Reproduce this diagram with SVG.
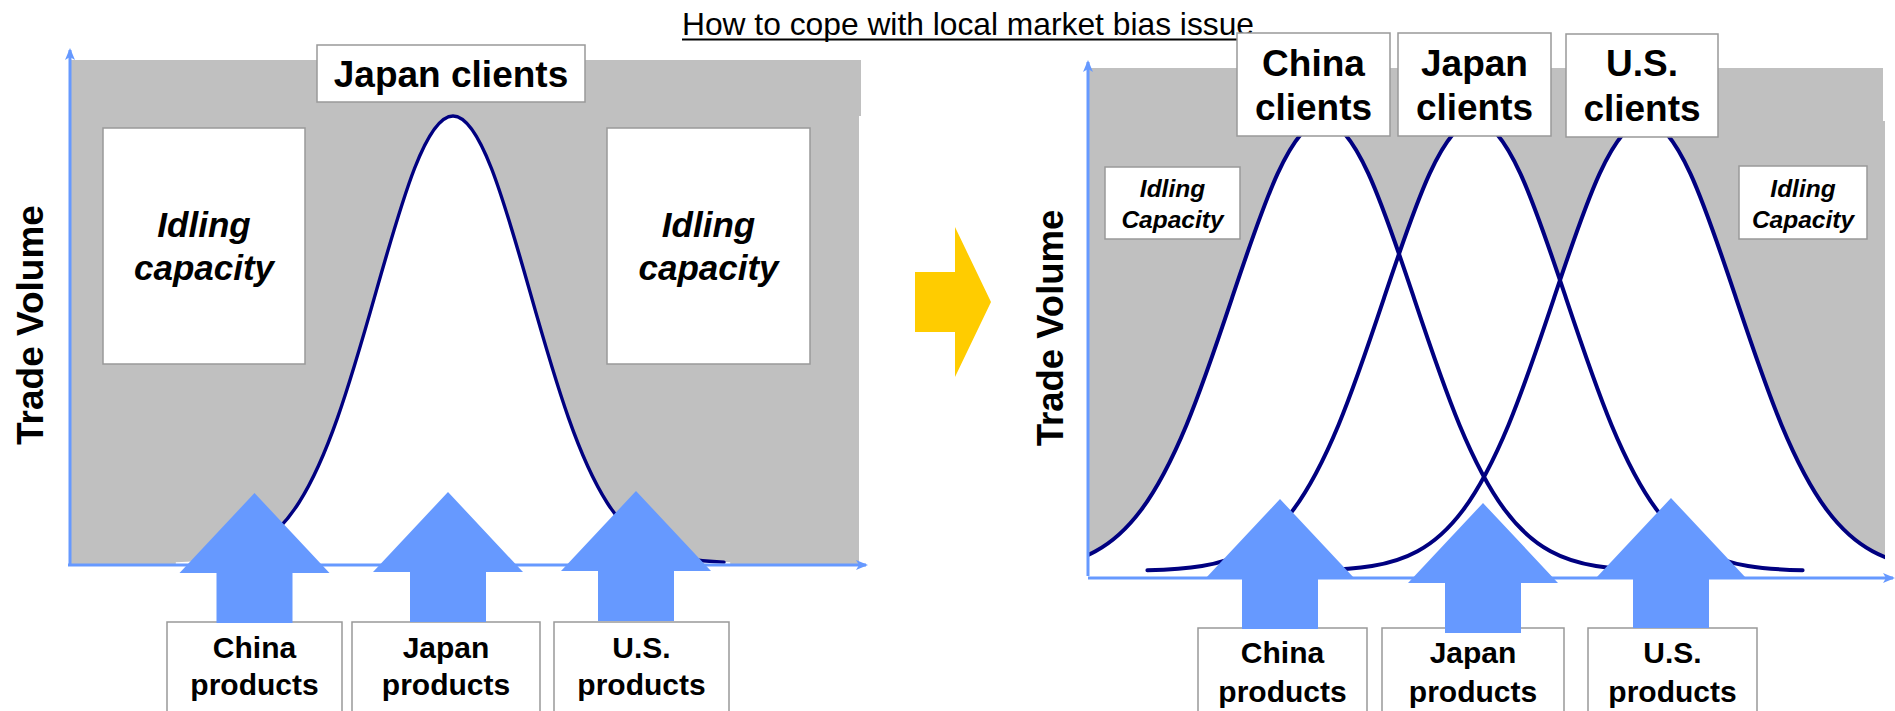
<svg xmlns="http://www.w3.org/2000/svg" xmlns:xlink="http://www.w3.org/1999/xlink" width="1895" height="711" viewBox="0 0 1895 711">
  <style>
    .bg { fill: #ffffff; }
    .area { fill: #c0c0c0; }
    .box { fill: #ffffff; stroke: #999999; stroke-width: 1.5; }
    .t { font-family: "Liberation Sans", Arial, Helvetica, sans-serif; fill: #000000; text-anchor: middle; }
    .b { font-weight: bold; }
    .bi { font-weight: bold; font-style: italic; }
    .axis { stroke: #6699ff; stroke-width: 3; fill: none; }
    .curve { fill: none; stroke: #000080; stroke-linejoin: round; stroke-linecap: round; }
    .under { fill: #ffffff; stroke: none; }
    .supply { fill: #6699ff; }
  </style>
  <defs>
    <!-- bell curve of the three-market chart, centred on x = 0 -->
    <path id="bellR" d="M-327.6,570.3 C-309.4,569.8 -291.2,569.0 -273,566.0 C-257.8,563.5 -242.7,559.5 -227.5,551.2 C-212.3,543.0 -197.2,530.4 -182,510.1 C-166.8,489.8 -151.7,461.4 -136.5,424.9 C-121.3,388.3 -106.2,343.6 -91,298.1 C-75.8,252.6 -60.7,207.0 -45.5,173.9 C-30.3,140.8 -15.2,121 0,121 C15.2,121 30.3,140.8 45.5,173.9 C60.7,207.0 75.8,252.6 91,298.1 C106.2,343.6 121.3,388.3 136.5,424.9 C151.7,461.4 166.8,489.8 182,510.1 C197.2,530.4 212.3,543.0 227.5,551.2 C242.7,559.5 257.8,563.5 273,566.0 C291.2,569.0 309.4,569.8 327.6,570.3"/>
    <path id="bellRFill" d="M-327.6,570.3 C-309.4,569.8 -291.2,569.0 -273,566.0 C-257.8,563.5 -242.7,559.5 -227.5,551.2 C-212.3,543.0 -197.2,530.4 -182,510.1 C-166.8,489.8 -151.7,461.4 -136.5,424.9 C-121.3,388.3 -106.2,343.6 -91,298.1 C-75.8,252.6 -60.7,207.0 -45.5,173.9 C-30.3,140.8 -15.2,121 0,121 C15.2,121 30.3,140.8 45.5,173.9 C60.7,207.0 75.8,252.6 91,298.1 C106.2,343.6 121.3,388.3 136.5,424.9 C151.7,461.4 166.8,489.8 182,510.1 C197.2,530.4 212.3,543.0 227.5,551.2 C242.7,559.5 257.8,563.5 273,566.0 C291.2,569.0 309.4,569.8 327.6,570.3 L327.6,577 L-327.6,577 Z"/>
    <!-- block arrow, apex at origin -->
    <path id="supplyArrow" d="M 0 0 L 75 80 L 38 80 L 38 130 L -38 130 L -38 80 L -75 80 Z"/>
    <marker id="axisHead" viewBox="0 0 12 10" refX="10" refY="5" markerWidth="12" markerHeight="10" markerUnits="userSpaceOnUse" orient="auto">
      <path d="M 0 0 L 12 5 L 0 10 L 3 5 Z" fill="#6699ff"/>
    </marker>
    <clipPath id="rightPlot">
      <rect x="1088" y="60" width="797" height="520"/>
    </clipPath>
  </defs>

  <rect class="bg" x="0" y="0" width="1895" height="711"/>

  <!-- title -->
  <g id="title">
    <text class="t" x="682" y="35" style="text-anchor:start" font-size="31.5" textLength="572" lengthAdjust="spacingAndGlyphs">How to cope with local market bias issue</text>
    <line x1="682" y1="39.5" x2="1254" y2="39.5" stroke="#000" stroke-width="2"/>
  </g>

  <!-- ===== left chart: single market ===== -->
  <g id="left-chart">
    <rect class="area" x="70" y="60" width="791" height="56"/>
    <rect class="area" x="70" y="116" width="789" height="449"/>
    <path class="under" d="M175.8,562.3 C191.2,561.8 206.6,561.0 222,558.0 C234.8,555.5 247.7,551.6 260.5,543.4 C273.3,535.2 286.2,522.7 299,502.5 C311.8,482.4 324.7,454.2 337.5,417.9 C350.3,381.6 363.2,337.1 376,291.9 C388.8,246.7 401.7,201.4 414.5,168.5 C427.3,135.7 440.2,116 453,116 C465.8,116 478.7,135.7 491.5,168.5 C504.3,201.4 517.2,246.7 530,291.9 C542.8,337.1 555.7,381.6 568.5,417.9 C581.3,454.2 594.2,482.4 607,502.5 C619.8,522.7 632.7,535.2 645.5,543.4 C658.3,551.6 671.2,555.5 684,558.0 C699.4,561.0 714.8,561.8 730.2,562.3 L730.2,566 L175.8,566 Z"/>
    <path class="curve" stroke-width="3.4" d="M222,558.0 C234.8,555.5 247.7,551.6 260.5,543.4 C273.3,535.2 286.2,522.7 299,502.5 C311.8,482.4 324.7,454.2 337.5,417.9 C350.3,381.6 363.2,337.1 376,291.9 C388.8,246.7 401.7,201.4 414.5,168.5 C427.3,135.7 440.2,116 453,116 C465.8,116 478.7,135.7 491.5,168.5 C504.3,201.4 517.2,246.7 530,291.9 C542.8,337.1 555.7,381.6 568.5,417.9 C581.3,454.2 594.2,482.4 607,502.5 C619.8,522.7 632.7,535.2 645.5,543.4 C658.3,551.6 671.2,555.5 684,558.0 C699.4,561.0 714.8,561.8 724,562.1"/>
  </g>

  <g id="left-idle-1">
    <rect class="box" x="103" y="128" width="202" height="236"/>
    <text class="t bi" x="204" y="237" font-size="35">Idling</text>
    <text class="t bi" x="204" y="280" font-size="35">capacity</text>
  </g>
  <g id="left-idle-2">
    <rect class="box" x="607" y="128" width="203" height="236"/>
    <text class="t bi" x="708.5" y="237" font-size="35">Idling</text>
    <text class="t bi" x="708.5" y="280" font-size="35">capacity</text>
  </g>
  <g id="left-japan-clients">
    <rect class="box" x="317" y="45" width="268" height="57"/>
    <text class="t b" x="451" y="87" font-size="37">Japan clients</text>
  </g>

  <g id="left-axis-label">
    <text class="t b" transform="translate(43 325) rotate(-90)" font-size="37">Trade Volume</text>
  </g>

  <!-- ===== right chart: three markets ===== -->
  <g id="right-chart">
    <rect class="area" x="1088" y="68" width="795" height="53"/>
    <rect class="area" x="1088" y="121" width="797" height="454"/>
    <g clip-path="url(#rightPlot)">
      <use xlink:href="#bellRFill" class="under" transform="translate(1323 0)"/>
      <use xlink:href="#bellRFill" class="under" transform="translate(1475 0)"/>
      <use xlink:href="#bellRFill" class="under" transform="translate(1645 0)"/>
      <use xlink:href="#bellR" class="curve" stroke-width="4" transform="translate(1323 0)"/>
      <use xlink:href="#bellR" class="curve" stroke-width="4" transform="translate(1475 0)"/>
      <use xlink:href="#bellR" class="curve" stroke-width="4" transform="translate(1645 0)"/>
    </g>
  </g>

  <g id="right-idle-1">
    <rect class="box" x="1105" y="167" width="135" height="72"/>
    <text class="t bi" x="1172.5" y="197" font-size="24.5">Idling</text>
    <text class="t bi" x="1172.5" y="228" font-size="24.5">Capacity</text>
  </g>
  <g id="right-idle-2">
    <rect class="box" x="1739" y="166" width="128" height="73"/>
    <text class="t bi" x="1803" y="197" font-size="24.5">Idling</text>
    <text class="t bi" x="1803" y="228" font-size="24.5">Capacity</text>
  </g>
  <g id="right-china-clients">
    <rect class="box" x="1237" y="33" width="153" height="103"/>
    <text class="t b" x="1313.5" y="76" font-size="37">China</text>
    <text class="t b" x="1313.5" y="120" font-size="37">clients</text>
  </g>
  <g id="right-japan-clients">
    <rect class="box" x="1398" y="33" width="153" height="103"/>
    <text class="t b" x="1474.5" y="76" font-size="37">Japan</text>
    <text class="t b" x="1474.5" y="120" font-size="37">clients</text>
  </g>
  <g id="right-us-clients">
    <rect class="box" x="1566" y="34" width="152" height="103"/>
    <text class="t b" x="1642" y="76" font-size="37">U.S.</text>
    <text class="t b" x="1642" y="121" font-size="37">clients</text>
  </g>

  <g id="right-axis-label">
    <text class="t b" transform="translate(1063 328) rotate(-90)" font-size="36.5">Trade Volume</text>
  </g>

  <!-- axes -->
  <g id="connectors">
    <line class="axis" x1="70" y1="566" x2="70" y2="50" marker-end="url(#axisHead)"/>
    <line class="axis" x1="68" y1="565" x2="866" y2="565" marker-end="url(#axisHead)"/>
    <line class="axis" x1="1088" y1="576" x2="1088" y2="62" marker-end="url(#axisHead)"/>
    <line class="axis" x1="1088" y1="578" x2="1893" y2="578" marker-end="url(#axisHead)"/>
  </g>

  <!-- transition arrow -->
  <g id="shift-arrow">
    <polygon points="915,272 955,272 955,227 991,302 955,377 955,332 915,332" fill="#ffcc00"/>
  </g>

  <!-- product boxes, left -->
  <g id="left-china-products">
    <rect class="box" x="167" y="622" width="175" height="95"/>
    <text class="t b" x="254.5" y="658" font-size="30">China</text>
    <text class="t b" x="254.5" y="695" font-size="30">products</text>
  </g>
  <g id="left-japan-products">
    <rect class="box" x="352" y="622" width="188" height="95"/>
    <text class="t b" x="446" y="658" font-size="30">Japan</text>
    <text class="t b" x="446" y="695" font-size="30">products</text>
  </g>
  <g id="left-us-products">
    <rect class="box" x="554" y="622" width="175" height="95"/>
    <text class="t b" x="641.5" y="658" font-size="30">U.S.</text>
    <text class="t b" x="641.5" y="695" font-size="30">products</text>
  </g>

  <!-- product boxes, right -->
  <g id="right-china-products">
    <rect class="box" x="1198" y="628" width="169" height="90"/>
    <text class="t b" x="1282.5" y="663" font-size="30">China</text>
    <text class="t b" x="1282.5" y="702" font-size="30">products</text>
  </g>
  <g id="right-japan-products">
    <rect class="box" x="1382" y="628" width="182" height="90"/>
    <text class="t b" x="1473" y="663" font-size="30">Japan</text>
    <text class="t b" x="1473" y="702" font-size="30">products</text>
  </g>
  <g id="right-us-products">
    <rect class="box" x="1588" y="628" width="169" height="90"/>
    <text class="t b" x="1672.5" y="663" font-size="30">U.S.</text>
    <text class="t b" x="1672.5" y="702" font-size="30">products</text>
  </g>

  <!-- supply arrows -->
  <g id="supply-arrows">
    <use xlink:href="#supplyArrow" class="supply" transform="translate(254.5 493)"/>
    <use xlink:href="#supplyArrow" class="supply" transform="translate(448 492)"/>
    <use xlink:href="#supplyArrow" class="supply" transform="translate(636 491)"/>
    <use xlink:href="#supplyArrow" class="supply" transform="translate(1280 499)"/>
    <use xlink:href="#supplyArrow" class="supply" transform="translate(1483 503)"/>
    <use xlink:href="#supplyArrow" class="supply" transform="translate(1671 498)"/>
  </g>
</svg>
